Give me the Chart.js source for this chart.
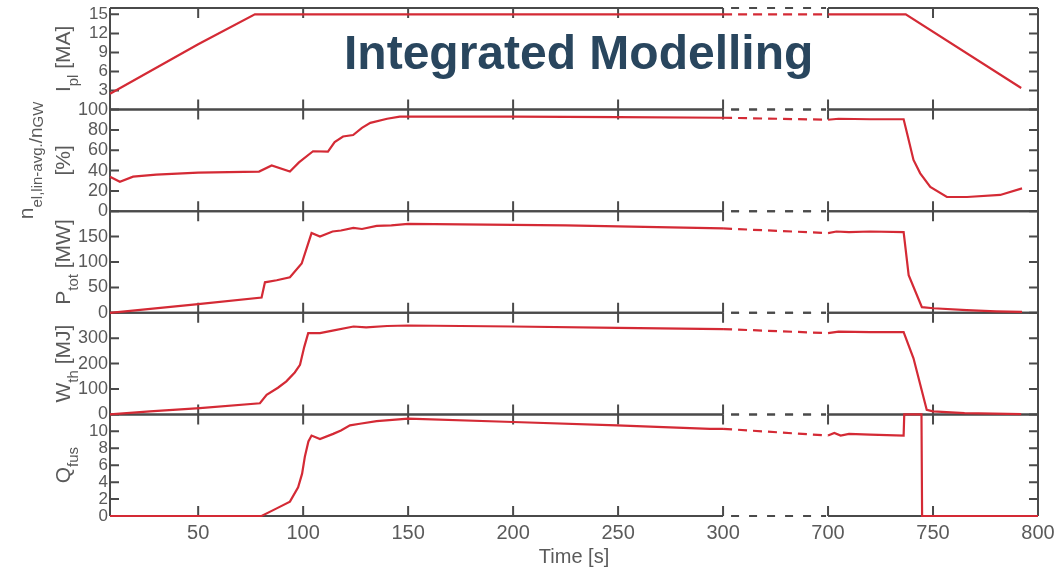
<!DOCTYPE html>
<html>
<head>
<meta charset="utf-8">
<script src="https://cdn.jsdelivr.net/npm/chart.js@4.4.0/dist/chart.umd.min.js"></script>
<style>
  html, body { margin: 0; padding: 0; background: #fff; }
  .wrap { position: relative; width: 1063px; height: 570px; }
</style>
</head>
<body>
<div class="wrap"><canvas id="scenario"></canvas></div>
<script>
// time axis is broken between 300 s and 700 s, the gap is drawn as 50 s wide
const gapStart = 300;
const gapEnd = 700;
const gapWidth = 50;
const xTickValues = [50, 100, 150, 200, 250, 300, 700, 750, 800];

// plasma current [MA]
const ipTime = [8, 50, 77, 300, 700, 737, 792];
const ipValues = [2.5, 10.3, 15, 15, 15, 15, 3.4];

// line averaged density / Greenwald [%]
const neTime = [8, 12.7, 19, 30, 50, 79, 85, 93.7, 98, 104.7, 111.8, 115, 119, 123.8, 128, 132, 140, 146, 150, 200, 250, 300,
  700, 705, 720, 736, 737.6, 740.7, 743.9, 748.7, 756.6, 766.2, 782, 792.4];
const neValues = [34, 29, 34, 36, 38, 39, 45, 39, 48, 59, 58.7, 68, 73.5, 75, 82, 87, 91, 93, 93, 93, 92.5, 92,
  90, 91, 90.5, 90.5, 77, 50.5, 37.3, 24, 14, 14, 16, 22.5];

// total heating power [MW]
const pTime = [8, 50, 80.2, 81.8, 87.4, 93.7, 99.3, 104, 108, 114, 118, 123.9, 128, 135, 142, 150, 175, 200, 225, 250, 275, 300,
  700, 704, 710, 720, 736, 738.4, 744.7, 750.2, 766, 780, 792.4];
const pValues = [0, 17, 30, 60, 64, 70, 97, 157, 150, 160, 162, 167, 165, 171, 172, 175, 174, 173, 172, 170, 168, 166,
  157, 160, 159, 160, 159, 74, 11, 9, 5.4, 3, 2];

// thermal energy [MJ]
const wTime = [8, 27, 50.8, 79.4, 82.6, 88, 92, 96, 98.5, 100.5, 102.4, 108, 114, 124, 130, 140, 150, 200, 250, 300,
  700, 705, 720, 736, 740.7, 747, 750, 765, 792];
const wValues = [0, 12, 25, 44, 77, 105, 130, 165, 195, 265, 320, 320, 330, 346, 343, 348, 350, 346, 341, 336,
  320, 326, 324, 324, 221, 18, 12, 5, 1];

// fusion gain
const qTime = [8, 80.2, 87.4, 93.7, 97.6, 99.5, 100.8, 102.5, 104, 108, 114.3, 118, 122.3, 127, 135, 150, 200, 249.4, 293.8, 300,
  700, 703, 706, 710, 720, 736, 736.3, 744.5, 744.8, 800];
const qValues = [0, 0, 0.9, 1.7, 3.4, 5, 7, 8.8, 9.5, 9.1, 9.7, 10.1, 10.7, 10.9, 11.2, 11.5, 11.1, 10.7, 10.3, 10.3,
  9.5, 9.8, 9.5, 9.7, 9.6, 9.5, 12, 12, 0, 0];

const ipTicks = [3, 6, 9, 12, 15];
const neTicks = [0, 20, 40, 60, 80, 100];
const pTicks = [0, 50, 100, 150];
const wTicks = [0, 100, 200, 300];
const qTicks = [0, 2, 4, 6, 8, 10];

const lineColor = "#d42a35";
const frameColor = "#4a4a4a";
const textColor = "#5a5a5a";
const fontName = "'Liberation Sans', Arial, sans-serif";

function squeeze(t) {
    return t <= gapStart ? t : t - gapEnd + gapStart + gapWidth;
}
function unsqueeze(v) {
    return v <= gapStart ? v : v + gapEnd - gapStart - gapWidth;
}

Chart.defaults.font.family = fontName;

const series = [
    { axis: "yIp", time: ipTime, values: ipValues },
    { axis: "yNe", time: neTime, values: neValues },
    { axis: "yP", time: pTime, values: pValues },
    { axis: "yW", time: wTime, values: wValues },
    { axis: "yQ", time: qTime, values: qValues }
];

function panelAxis(min, max, ticks, fontSize) {
    return {
        type: "linear",
        position: "left",
        stack: "panels",
        stackWeight: 1,
        min: min,
        max: max,
        grid: { display: false, drawTicks: false },
        border: { display: false },
        afterBuildTicks: function (scale) {
            scale.ticks = ticks.map(v => ({ value: v }));
        },
        afterFit: function (scale) {
            scale.width = 110;
            scale.paddingTop = 0;
            scale.paddingBottom = 0;
        },
        ticks: {
            autoSkip: false,
            color: textColor,
            font: { size: fontSize },
            padding: 2
        }
    };
}

// rotated axis labels: [baseline x, runs], a run is [text, font size, baseline shift]
const yLabels = {
    yIp: [[70, [["I", 21, 0], ["pl", 15, 8], [" [MA]", 21, 0]]]],
    yNe: [[33, [["n", 21, 0], ["el,lin-avg.", 15, 9], ["/n", 19, 9], ["GW", 15, 10]]], [70, [["[%]", 21, 0]]]],
    yP: [[70, [["P", 21, 0], ["tot", 15, 8], [" [MW]", 21, 0]]]],
    yW: [[70, [["W", 21, 0], ["th", 15, 8], [" [MJ]", 21, 0]]]],
    yQ: [[70, [["Q", 21, 0], ["fus", 15, 8]]]]
};

const framePlugin = {
    id: "frame",
    beforeDatasetsDraw: function (chart) {
        const ctx = chart.ctx;
        const area = chart.chartArea;
        const xs = chart.scales.x;
        const gapA = xs.getPixelForValue(gapStart);
        const gapB = xs.getPixelForValue(gapStart + gapWidth);
        ctx.save();
        ctx.strokeStyle = frameColor;
        ctx.lineWidth = 2;

        function hline(y) {
            ctx.setLineDash([]);
            ctx.beginPath();
            ctx.moveTo(area.left, y); ctx.lineTo(gapA, y);
            ctx.moveTo(gapB, y); ctx.lineTo(area.right, y);
            ctx.stroke();
            ctx.setLineDash([8, 10]);
            ctx.beginPath();
            ctx.moveTo(gapA + 8, y); ctx.lineTo(gapB - 2, y);
            ctx.stroke();
            ctx.setLineDash([]);
        }

        Object.keys(yLabels).forEach(function (id) {
            const s = chart.scales[id];
            hline(s.top);
            hline(s.bottom);
            ctx.beginPath();
            s.ticks.forEach(function (t) {
                const y = s.getPixelForValue(t.value);
                ctx.moveTo(area.left, y); ctx.lineTo(area.left + 9, y);
                ctx.moveTo(area.right, y); ctx.lineTo(area.right - 9, y);
            });
            xs.ticks.forEach(function (t) {
                const x = xs.getPixelForValue(t.value);
                ctx.moveTo(x, s.top); ctx.lineTo(x, s.top + 10);
                ctx.moveTo(x, s.bottom); ctx.lineTo(x, s.bottom - 10);
            });
            ctx.stroke();
        });

        ctx.beginPath();
        ctx.moveTo(area.left, area.top); ctx.lineTo(area.left, area.bottom);
        ctx.moveTo(area.right, area.top); ctx.lineTo(area.right, area.bottom);
        ctx.stroke();
        ctx.restore();
    },
    afterDraw: function (chart) {
        const ctx = chart.ctx;
        ctx.save();
        ctx.fillStyle = textColor;
        ctx.textBaseline = "alphabetic";
        ctx.textAlign = "left";
        Object.keys(yLabels).forEach(function (id) {
            const s = chart.scales[id];
            const cy = (s.top + s.bottom) / 2;
            yLabels[id].forEach(function (line) {
                const runs = line[1];
                ctx.save();
                ctx.translate(line[0], cy);
                ctx.rotate(-Math.PI / 2);
                let total = 0;
                runs.forEach(function (r) {
                    ctx.font = r[1] + "px " + fontName;
                    total += ctx.measureText(r[0]).width;
                });
                let x = -total / 2;
                runs.forEach(function (r) {
                    ctx.font = r[1] + "px " + fontName;
                    ctx.fillText(r[0], x, r[2]);
                    x += ctx.measureText(r[0]).width;
                });
                ctx.restore();
            });
        });

        // title
        ctx.font = "bold 48px " + fontName;
        ctx.fillStyle = "#29465e";
        ctx.fillText("Integrated Modelling", 344, 69);
        ctx.restore();
    }
};

const chart = new Chart(document.getElementById("scenario"), {
    type: "line",
    data: {
        datasets: series.map(s => ({
            data: s.time.map((t, i) => ({ x: squeeze(t), y: s.values[i] })),
            yAxisID: s.axis,
            borderColor: lineColor,
            borderWidth: 2.2,
            pointRadius: 0,
            tension: 0,
            clip: false,
            segment: {
                borderDash: ctx => (ctx.p0.parsed.x >= gapStart && ctx.p1.parsed.x <= gapStart + gapWidth + 0.01) ? [9, 6] : undefined
            }
        }))
    },
    options: {
        responsive: true,
        maintainAspectRatio: false,
        animation: false,
        layout: { padding: { top: 8, right: 25, left: 0, bottom: 0 } },
        plugins: {
            legend: { display: false },
            tooltip: { enabled: false }
        },
        scales: {
            x: {
                type: "linear",
                min: 8,
                max: squeeze(800),
                grid: { display: false, drawTicks: false },
                border: { display: false },
                afterBuildTicks: function (scale) {
                    scale.ticks = xTickValues.map(t => ({ value: squeeze(t) }));
                },
                afterFit: function (scale) {
                    scale.height = 54;
                    scale.paddingLeft = 0;
                    scale.paddingRight = 0;
                },
                ticks: {
                    autoSkip: false,
                    maxRotation: 0,
                    color: textColor,
                    font: { size: 20 },
                    padding: 5,
                    callback: v => String(unsqueeze(v))
                },
                title: {
                    display: true,
                    text: "Time [s]",
                    color: textColor,
                    font: { size: 20 },
                    padding: { top: 0, bottom: 1 }
                }
            },
            // stacked axes are laid out bottom-up
            yQ: panelAxis(0, 12, qTicks, 17),
            yW: panelAxis(0, 400, wTicks, 18),
            yP: panelAxis(0, 200, pTicks, 18),
            yNe: panelAxis(0, 100, neTicks, 18),
            yIp: panelAxis(0, 16, ipTicks, 17)
        }
    },
    plugins: [framePlugin]
});
</script>
</body>
</html>
